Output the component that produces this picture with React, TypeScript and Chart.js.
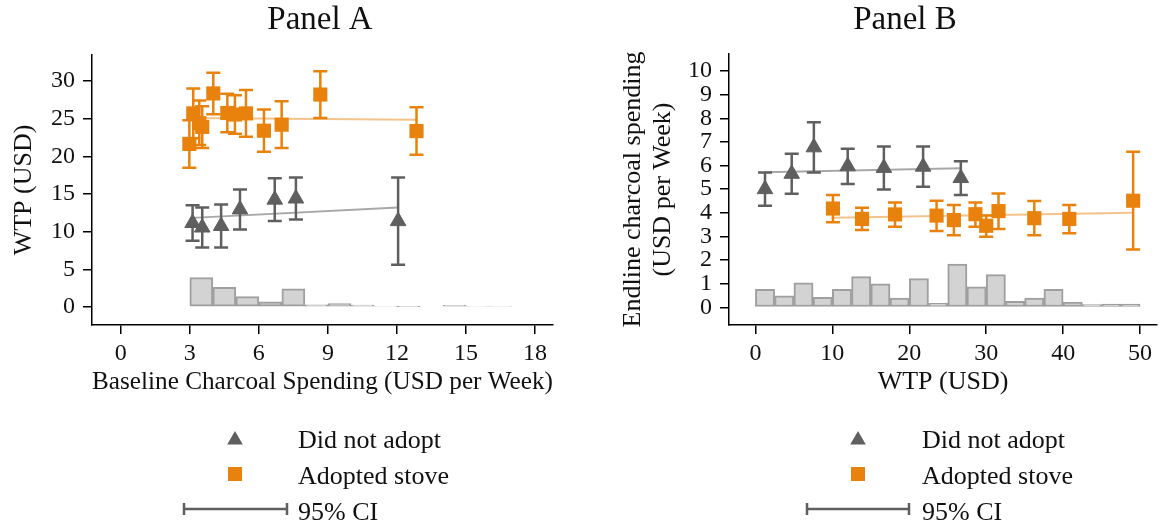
import { useEffect, useRef } from "react";
import { Chart, registerables, ChartConfiguration, Plugin } from "chart.js";

Chart.register(...registerables);

const SERIF = "'Liberation Serif', 'DejaVu Serif', serif";
Chart.defaults.font.family = SERIF;
Chart.defaults.color = "#111";

// ---- Panel A: baseline charcoal spending (x) vs WTP (y) ----
const aNoX = [3.12, 3.54, 4.36, 5.18, 6.69, 7.61, 12.05];
const aNoY = [11.15, 10.55, 10.75, 12.95, 14.25, 14.4, 11.4];
const aNoLo = [8.8, 7.9, 7.9, 10.3, 11.4, 11.6, 5.6];
const aNoHi = [13.5, 13.2, 13.6, 15.6, 17.1, 17.2, 17.2];
const aYesX = [2.98, 3.15, 3.41, 3.54, 4.02, 4.63, 4.96, 5.44, 6.22, 6.99, 8.67, 12.85];
const aYesY = [21.65, 25.7, 24.4, 23.9, 28.35, 25.75, 25.55, 25.7, 23.4, 24.2, 28.2, 23.35];
const aYesLo = [18.5, 22.4, 21.5, 21.1, 25.6, 23.2, 23.0, 22.6, 20.6, 21.1, 25.1, 20.2];
const aYesHi = [24.8, 29.0, 27.4, 26.65, 31.1, 28.3, 28.1, 28.8, 26.2, 27.3, 31.3, 26.5];
const aFitNoX = [3.12, 12.05];
const aFitNoY = [11.83, 13.2];
const aFitYesX = [2.98, 12.85];
const aFitYesY = [25.1, 24.85];
const aHistX = [3.5, 4.5, 5.5, 6.5, 7.5, 8.5, 9.5, 10.5, 11.5, 12.5, 13.5, 14.5, 15.5, 16.5];
const aHistY = [3.9, 2.6, 1.37, 0.7, 2.4, 0.3, 0.44, 0.27, 0.13, 0.05, null, 0.22, 0.1, 0.13];
const aXTicks = [0, 3, 6, 9, 12, 15, 18];
const aYTicks = [0, 5, 10, 15, 20, 25, 30];

// ---- Panel B: WTP (x) vs endline charcoal spending (y) ----
const bNoX = [1.25, 4.72, 7.6, 12.0, 16.7, 21.8, 26.7];
const bNoY = [5.0, 5.65, 6.77, 5.97, 5.9, 5.95, 5.47];
const bNoLo = [4.3, 4.8, 5.7, 5.22, 4.99, 5.1, 4.75];
const bNoHi = [5.7, 6.5, 7.83, 6.71, 6.81, 6.8, 6.18];
const bYesX = [10.08, 13.86, 18.15, 23.55, 25.8, 28.6, 30.0, 31.6, 36.25, 40.8, 49.1];
const bYesY = [4.18, 3.74, 3.93, 3.88, 3.69, 3.94, 3.45, 4.07, 3.77, 3.74, 4.51];
const bYesLo = [3.6, 3.27, 3.41, 3.23, 3.05, 3.41, 2.99, 3.31, 3.05, 3.13, 2.45];
const bYesHi = [4.75, 4.21, 4.43, 4.51, 4.33, 4.43, 3.88, 4.82, 4.5, 4.33, 6.58];
const bFitNoX = [1.25, 26.7];
const bFitNoY = [5.71, 5.88];
const bFitYesX = [10.08, 49.1];
const bFitYesY = [3.79, 4.0];
const bHistX = [1.25, 3.75, 6.25, 8.75, 11.25, 13.75, 16.25, 18.75, 21.25, 23.75,
  26.25, 28.75, 31.25, 33.75, 36.25, 38.75, 41.25, 43.75, 46.25, 48.75];
const bHistY = [0.76, 0.48, 1.04, 0.42, 0.76, 1.3, 0.99, 0.39, 1.21, 0.17,
  1.83, 0.87, 1.38, 0.25, 0.39, 0.76, 0.22, 0.11, 0.14, 0.14];
const bXTicks = [0, 10, 20, 30, 40, 50];
const bYTicks = [0, 1, 2, 3, 4, 5, 6, 7, 8, 9, 10];

const GREY = "#5f5f5f";
const ORANGE = "#e8820c";
const GREY_FIT = "#a8a8a8";
const ORANGE_FIT = "#f4c38c";

const pts = (xs: number[], ys: (number | null)[]) => xs.map((x, i) => ({ x, y: ys[i] }));

interface CI { index: number; xs: number[]; lo: number[]; hi: number[]; color: string }

// whiskers drawn just before the marker dataset they belong to
const makeErrorBars = (groups: CI[]): Plugin => ({
  id: "errorBars",
  beforeDatasetDraw(chart, args) {
    const g = groups.find((c) => c.index === args.index);
    if (!g) return;
    const { ctx } = chart;
    const xs = chart.scales.x, ys = chart.scales.y;
    ctx.save();
    ctx.strokeStyle = g.color;
    ctx.lineWidth = 2.5;
    g.xs.forEach((v, i) => {
      const px = xs.getPixelForValue(v);
      const lo = ys.getPixelForValue(g.lo[i]);
      const hi = ys.getPixelForValue(g.hi[i]);
      ctx.beginPath();
      ctx.moveTo(px, lo); ctx.lineTo(px, hi);
      ctx.moveTo(px - 7, lo); ctx.lineTo(px + 7, lo);
      ctx.moveTo(px - 7, hi); ctx.lineTo(px + 7, hi);
      ctx.stroke();
    });
    ctx.restore();
  },
});

interface KeyPos { title: string; titleX: number; mark: number; text: number; ciL: number; ciR: number }

const makeKey = (k: KeyPos): Plugin => ({
  id: "panelKey",
  afterDraw(chart) {
    const { ctx } = chart;
    ctx.save();
    ctx.fillStyle = "#111";
    ctx.textAlign = "center";
    ctx.textBaseline = "middle";
    ctx.font = `33px ${SERIF}`;
    ctx.fillText(k.title, k.titleX, 20);

    // triangle
    const r = 9, cy = 440;
    ctx.fillStyle = GREY;
    ctx.beginPath();
    ctx.moveTo(k.mark, cy - r);
    ctx.lineTo(k.mark + r * 0.866, cy + r / 2);
    ctx.lineTo(k.mark - r * 0.866, cy + r / 2);
    ctx.closePath();
    ctx.fill();
    // square
    ctx.fillStyle = ORANGE;
    ctx.fillRect(k.mark - 7, 467, 14, 14);
    // CI
    ctx.strokeStyle = GREY;
    ctx.lineWidth = 2.5;
    ctx.beginPath();
    ctx.moveTo(k.ciL, 509); ctx.lineTo(k.ciR, 509);
    ctx.moveTo(k.ciL, 503); ctx.lineTo(k.ciL, 515);
    ctx.moveTo(k.ciR, 503); ctx.lineTo(k.ciR, 515);
    ctx.stroke();

    ctx.fillStyle = "#111";
    ctx.textAlign = "left";
    ctx.textBaseline = "alphabetic";
    ctx.font = `26px ${SERIF}`;
    ctx.fillText("Did not adopt", k.text, 448);
    ctx.fillText("Adopted stove", k.text, 484);
    ctx.fillText("95% CI", k.text, 520);
    ctx.restore();
  },
});

interface PanelProps {
  width: number;
  yAxisWidth: number;
  padTop: number;
  padRight: number;
  xMin: number; xMax: number; yMin: number; yMax: number;
  xTicks: number[]; yTicks: number[];
  xTitle: string; yTitle: string | string[]; yTitlePad: number;
  noX: number[]; noY: number[]; noLo: number[]; noHi: number[];
  yesX: number[]; yesY: number[]; yesLo: number[]; yesHi: number[];
  fitNoX: number[]; fitNoY: number[]; fitYesX: number[]; fitYesY: number[];
  histX: number[]; histY: (number | null)[];
  keyPos: KeyPos;
}

const Panel = (p: PanelProps) => {
  const ref = useRef<HTMLCanvasElement>(null);

  useEffect(() => {
    if (!ref.current) return;
    const axisCommon = {
      type: "linear" as const,
      offset: false,
      border: { display: true, color: "#000", width: 1.5 },
      grid: {
        display: true, offset: false, drawOnChartArea: false, drawTicks: true,
        tickLength: 9, color: "#000", lineWidth: 1.5,
      },
    };

    const config: ChartConfiguration = {
      type: "scatter",
      data: {
        datasets: [
          {
            type: "bar",
            data: pts(p.histX, p.histY),
            backgroundColor: "#d3d3d3",
            borderColor: "#9f9f9f",
            borderWidth: 2,
            borderSkipped: false,
            barPercentage: 1,
            categoryPercentage: 1,
            order: 4,
          } as any,
          {
            type: "line", data: pts(p.fitNoX, p.fitNoY), borderColor: GREY_FIT,
            borderWidth: 2, pointRadius: 0, order: 3,
          },
          {
            type: "line", data: pts(p.fitYesX, p.fitYesY), borderColor: ORANGE_FIT,
            borderWidth: 2, pointRadius: 0, order: 3,
          },
          {
            type: "scatter", data: pts(p.noX, p.noY), pointStyle: "triangle", pointRadius: 9,
            backgroundColor: GREY, borderColor: GREY, borderWidth: 1, order: 2,
          },
          {
            type: "scatter", data: pts(p.yesX, p.yesY), pointStyle: "rect", pointRadius: 10,
            backgroundColor: ORANGE, borderColor: ORANGE, borderWidth: 0, order: 1,
          },
        ],
      },
      options: {
        responsive: false,
        animation: false,
        events: [],
        layout: { padding: { left: 0, top: p.padTop, right: p.padRight, bottom: 125 } },
        plugins: { legend: { display: false }, tooltip: { enabled: false } },
        scales: {
          x: {
            ...axisCommon,
            min: p.xMin, max: p.xMax,
            afterBuildTicks: (s: any) => { s.ticks = p.xTicks.map((v) => ({ value: v })); },
            afterFit: (s: any) => { s.height = 75; },
            ticks: { font: { size: 24, family: SERIF }, padding: 5, color: "#111", autoSkip: false, maxRotation: 0 },
            title: {
              display: true, text: p.xTitle, color: "#111",
              font: { size: 26, lineHeight: 1.15, family: SERIF }, padding: { top: 0, bottom: 3 },
            },
          },
          y: {
            ...axisCommon,
            min: p.yMin, max: p.yMax,
            afterBuildTicks: (s: any) => { s.ticks = p.yTicks.map((v) => ({ value: v })); },
            afterFit: (s: any) => { s.width = p.yAxisWidth; },
            ticks: { font: { size: 24, family: SERIF }, padding: 8, color: "#111", autoSkip: false },
            title: {
              display: true, text: p.yTitle, color: "#111",
              font: { size: 26, lineHeight: 1.15, family: SERIF }, padding: { top: p.yTitlePad, bottom: 0 },
            },
          },
        },
      },
      plugins: [
        makeErrorBars([
          { index: 3, xs: p.noX, lo: p.noLo, hi: p.noHi, color: GREY },
          { index: 4, xs: p.yesX, lo: p.yesLo, hi: p.yesHi, color: ORANGE },
        ]),
        makeKey(p.keyPos),
      ],
    };

    const chart = new Chart(ref.current, config);
    return () => {
      chart.destroy();
    };
  }, []);

  return <canvas ref={ref} width={p.width} height={525} style={{ display: "block" }} />;
};

export default function App() {
  return (
    <div style={{ position: "absolute", left: 0, top: 0, width: 1167, height: 525, display: "flex", background: "#fff" }}>
      <Panel
        width={583} yAxisWidth={92} padTop={55} padRight={30}
        xMin={-1.25} xMax={18.78} yMin={-2.39} yMax={33.45}
        xTicks={aXTicks} yTicks={aYTicks}
        xTitle="Baseline Charcoal Spending (USD per Week)" yTitle="WTP (USD)" yTitlePad={9}
        noX={aNoX} noY={aNoY} noLo={aNoLo} noHi={aNoHi}
        yesX={aYesX} yesY={aYesY} yesLo={aYesLo} yesHi={aYesHi}
        fitNoX={aFitNoX} fitNoY={aFitNoY} fitYesX={aFitYesX} fitYesY={aFitYesY}
        histX={aHistX} histY={aHistY}
        keyPos={{ title: "Panel A", titleX: 320, mark: 235, text: 298, ciL: 184, ciR: 287 }}
      />
      <Panel
        width={584} yAxisWidth={146} padTop={54} padRight={5}
        xMin={-3.43} xMax={52.2} yMin={-0.75} yMax={10.72}
        xTicks={bXTicks} yTicks={bYTicks}
        xTitle="WTP (USD)" yTitle={["Endline charcoal spending", "(USD per Week)"]} yTitlePad={35}
        noX={bNoX} noY={bNoY} noLo={bNoLo} noHi={bNoHi}
        yesX={bYesX} yesY={bYesY} yesLo={bYesLo} yesHi={bYesHi}
        fitNoX={bFitNoX} fitNoY={bFitNoY} fitYesX={bFitYesX} fitYesY={bFitYesY}
        histX={bHistX} histY={bHistY}
        keyPos={{ title: "Panel B", titleX: 322, mark: 275, text: 339, ciL: 224, ciR: 326 }}
      />
    </div>
  );
}
